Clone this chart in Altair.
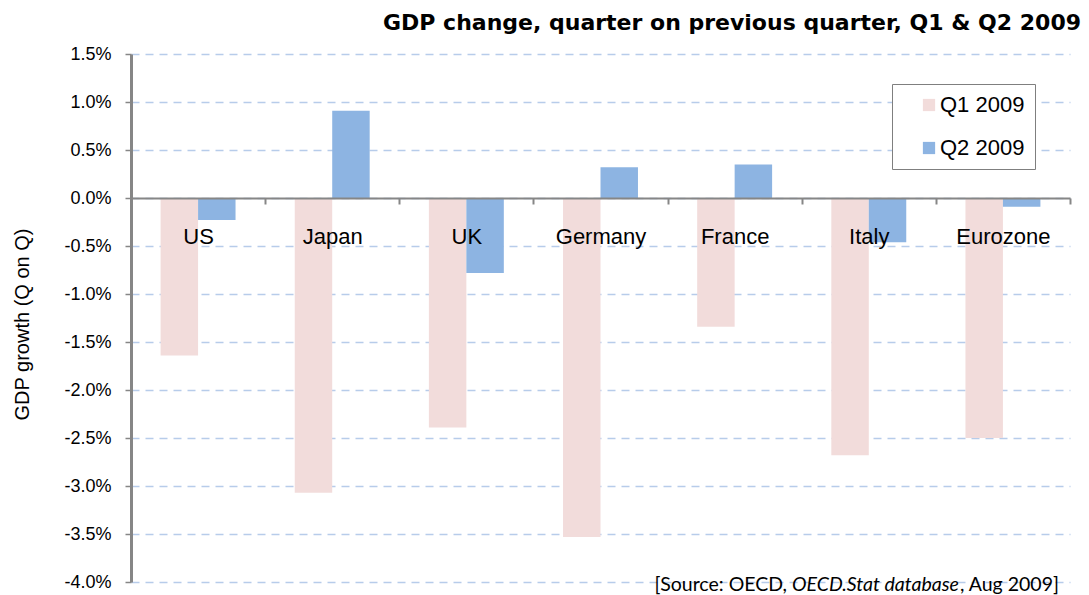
import altair as alt
import pandas as pd

countries = ["US", "Japan", "UK", "Germany", "France", "Italy", "Eurozone"]
q1_2009 = [-1.64, -3.07, -2.39, -3.53, -1.34, -2.68, -2.50]
q2_2009 = [-0.23, 0.91, -0.78, 0.32, 0.35, -0.46, -0.09]
series = ["Q1 2009", "Q2 2009"]
colors = ["#F2DCDB", "#8DB4E2"]
y_ticks = [1.5, 1.0, 0.5, 0.0, -0.5, -1.0, -1.5, -2.0, -2.5, -3.0, -3.5, -4.0]
title_text = "GDP change, quarter on previous quarter, Q1 & Q2 2009"
y_title = "GDP growth (Q on Q)"
source_parts = ["[Source: OECD,", "OECD.Stat database", ", Aug 2009]"]

rows = []
for c, a, b in zip(countries, q1_2009, q2_2009):
    rows.append({"country": c, "series": series[0], "value": a})
    rows.append({"country": c, "series": series[1], "value": b})
df = pd.DataFrame(rows)

W, H = 939, 528

bars = alt.Chart(df).mark_bar().encode(
    x=alt.X(
        "country:N", sort=countries,
        scale=alt.Scale(paddingInner=0, paddingOuter=0),
        axis=alt.Axis(
            title=None, orient="bottom", offset=-384, labelAngle=0,
            domainColor="#868686", domainWidth=2,
            tickColor="#868686", tickWidth=2, tickSize=6, tickBand="extent",
            labelFont="Liberation Sans", labelFontSize=22, labelColor="black",
            labelPadding=22, zindex=1, grid=False,
        ),
    ),
    xOffset=alt.XOffset("series:N", sort=series,
                        scale=alt.Scale(paddingOuter=0.79, paddingInner=0)),
    y=alt.Y(
        "value:Q", stack=None,
        scale=alt.Scale(domain=[-4.0, 1.5], nice=False),
        axis=alt.Axis(
            title=y_title, values=y_ticks,
            labelExpr="(datum.value < 0 ? '-' : '') + format(abs(datum.value), '.1f') + '%'",
            grid=True, gridColor="#B7CCEA", gridDash=[8, 6], gridWidth=1.5,
            domainColor="#868686", domainWidth=3,
            tickColor="#868686", tickWidth=1.5, tickSize=6,
            labelFont="Liberation Sans", labelFontSize=18, labelColor="black",
            labelPadding=14,
            titleFont="Liberation Sans", titleFontSize=20, titleFontWeight="normal",
            titleColor="black", titleX=-109, titleY=270, titleAngle=-90,
            titleBaseline="middle", titleAlign="center",
        ),
    ),
    y2=alt.datum(0),
    color=alt.Color(
        "series:N", sort=series,
        scale=alt.Scale(domain=series, range=colors),
        legend=alt.Legend(
            title=None, orient="none", legendX=761, legendY=30,
            direction="vertical", labelFont="Liberation Sans", labelFontSize=22,
            labelColor="black", symbolType="square", symbolSize=150,
            symbolStrokeWidth=0, strokeColor="#7F7F7F", fillColor="white",
            padding=10, rowPadding=21, symbolOffset=16, labelOffset=0,
            labelExpr="datum.label + '\u00a0\u00a0'",
        ),
    ),
)

def src_text(txt, x, align, style):
    return alt.Chart(pd.DataFrame({"t": [txt]})).mark_text(
        align=align, baseline="alphabetic", font="Lato", fontSize=19.5,
        fontStyle=style, color="black",
    ).encode(text="t:N", x=alt.value(x), y=alt.value(537))

src1 = src_text(source_parts[0], 656, "right", "normal")
src2 = src_text(source_parts[1], 661, "left", "italic")
src3 = src_text(source_parts[2], 829, "left", "normal")

chart = alt.layer(bars, src1, src2, src3).properties(
    width=W, height=H,
    autosize=alt.AutoSizeParams(type="none"),
    padding={"left": 123, "top": 46, "right": 11, "bottom": 13},
    title=alt.Title(
        title_text, anchor="end", frame="group", dx=11, offset=10,
        font="DejaVu Sans", fontSize=22,
        fontWeight="bold", color="black",
    ),
    background="white",
).configure_view(stroke=None)

chart.save("out.html", embed_options={"renderer": "svg", "actions": False})
